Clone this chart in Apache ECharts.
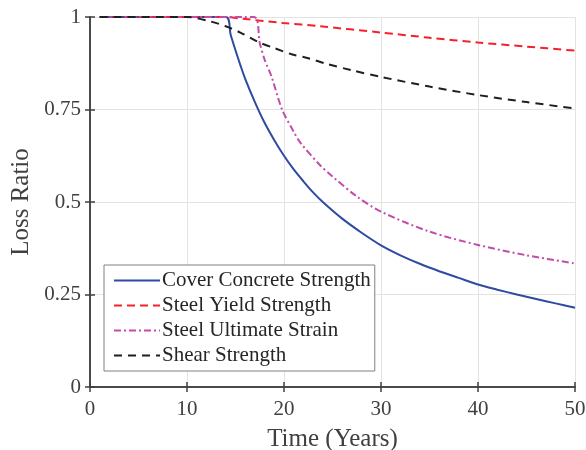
<!DOCTYPE html>
<html>
<head>
<meta charset="utf-8">
<script src="https://cdn.jsdelivr.net/npm/echarts@6/dist/echarts.min.js"></script>
<style>
  html, body { margin: 0; padding: 0; background: #fff; }
  #chart { width: 586px; height: 450px; }
</style>
</head>
<body>
<div id="chart"></div>
<script>
// values
var coverYears = [1, 14, 14.5, 15, 15.5, 16, 17, 18, 19, 20, 21, 22, 23, 24, 26, 28, 30, 32, 34, 36, 38, 40, 42, 44, 46, 48, 50];
var coverVals  = [1, 1, 0.952, 0.91, 0.87, 0.833, 0.77, 0.714, 0.667, 0.625, 0.588, 0.556, 0.526, 0.5, 0.455, 0.417, 0.383, 0.356, 0.333, 0.313, 0.295, 0.277, 0.263, 0.25, 0.238, 0.226, 0.214];

var yieldYears = [1, 14, 15.8, 19.9, 23.7, 30, 35, 40, 45, 50];
var yieldVals  = [1, 1, 0.995, 0.984, 0.975, 0.958, 0.944, 0.931, 0.92, 0.909];

var strainYears = [1, 16.9, 17.5, 18, 18.7, 19.8, 21, 21.7, 23.7, 25, 27.5, 30, 35, 40, 45, 50];
var strainVals  = [1, 1, 0.93, 0.885, 0.84, 0.75, 0.69, 0.66, 0.6, 0.569, 0.515, 0.474, 0.42, 0.384, 0.356, 0.334];

var shearYears = [1, 10, 12.4, 14, 15.5, 17.3, 19, 20.7, 22.6, 24.3, 27, 30, 35, 40, 45, 50];
var shearVals  = [1, 1, 0.988, 0.975, 0.958, 0.933, 0.916, 0.9, 0.888, 0.874, 0.856, 0.838, 0.812, 0.789, 0.77, 0.753];

var xTicks = [0, 10, 20, 30, 40, 50];
var yTicks = [0, 0.25, 0.5, 0.75, 1];

function pairs(xs, ys) {
  return xs.map(function (x, i) { return [x, ys[i]]; });
}

var chart = echarts.init(document.getElementById('chart'));
var font = '"Liberation Serif", "Times New Roman", serif';
var axisColor = '#404040';

var option = {
  animation: false,
  backgroundColor: '#fff',
  textStyle: { fontFamily: font },
  grid: { left: 90, right: 11, top: 17, bottom: 63, containLabel: false, outerBoundsMode: 'none' },
  legend: {
    orient: 'vertical',
    left: 104,
    top: 265,
    backgroundColor: '#fff',
    borderColor: '#808080',
    borderWidth: 1,
    padding: [5, 4, 5, 9],
    itemWidth: 46,
    itemHeight: 14,
    itemGap: 4,
    itemStyle: { color: 'transparent', borderWidth: 0, opacity: 0 },
    textStyle: { fontFamily: font, fontSize: 21, lineHeight: 21, color: '#262626', padding: [0, 0, 0, -3] },
    data: ['Cover Concrete Strength', 'Steel Yield Strength', 'Steel Ultimate Strain', 'Shear Strength']
  },
  xAxis: [{
    type: 'value',
    min: 0, max: 50, interval: 10,
    name: 'Time (Years)',
    nameLocation: 'middle',
    nameGap: 40,
    nameTextStyle: { fontFamily: font, fontSize: 25, color: '#404040' },
    axisLine: { show: true, lineStyle: { color: axisColor, width: 1.5 } },
    axisTick: { show: true, inside: true, length: 5, lineStyle: { color: axisColor, width: 1.5 } },
    axisLabel: { fontFamily: font, fontSize: 21, color: '#404040', margin: 12,
      formatter: function (v) { return xTicks.indexOf(v) >= 0 ? String(v) : ''; } },
    splitLine: { show: true, lineStyle: { color: '#e3e3e3', width: 1 } }
  }, {
    type: 'value',
    position: 'top',
    min: 0, max: 50, interval: 10,
    axisLine: { show: true, lineStyle: { color: axisColor, width: 1.5 } },
    axisTick: { show: true, inside: true, length: 5, lineStyle: { color: axisColor, width: 1.5 } },
    axisLabel: { show: false },
    splitLine: { show: false }
  }],
  yAxis: [{
    type: 'value',
    min: 0, max: 1, interval: 0.25,
    name: 'Loss Ratio',
    nameLocation: 'middle',
    nameGap: 56,
    nameMoveOverlap: false,
    nameTextStyle: { fontFamily: font, fontSize: 25, color: '#404040' },
    axisLine: { show: true, lineStyle: { color: axisColor, width: 1.5 } },
    axisTick: { show: true, inside: true, length: 5, lineStyle: { color: axisColor, width: 1.5 } },
    axisLabel: { fontFamily: font, fontSize: 21, color: '#404040', margin: 9,
      formatter: function (v) { return yTicks.indexOf(v) >= 0 ? String(v) : ''; } },
    splitLine: { show: true, lineStyle: { color: '#e3e3e3', width: 1 } }
  }, {
    type: 'value',
    position: 'right',
    min: 0, max: 1, interval: 0.25,
    axisLine: { show: true, lineStyle: { color: axisColor, width: 1.5 } },
    axisTick: { show: true, inside: true, length: 5, lineStyle: { color: axisColor, width: 1.5 } },
    axisLabel: { show: false },
    splitLine: { show: false }
  }],
  series: [{
    name: 'Cover Concrete Strength',
    type: 'line',
    smooth: 0.3,
    symbol: 'none',
    lineStyle: { color: '#2f4aa3', width: 2, type: 'solid' },
    itemStyle: { color: '#2f4aa3' },
    data: pairs(coverYears, coverVals)
  }, {
    name: 'Steel Yield Strength',
    type: 'line',
    smooth: 0.3,
    symbol: 'none',
    lineStyle: { color: '#f5202a', width: 2, type: [8, 5] },
    itemStyle: { color: '#f5202a' },
    data: pairs(yieldYears, yieldVals)
  }, {
    name: 'Steel Ultimate Strain',
    type: 'line',
    smooth: 0.3,
    symbol: 'none',
    lineStyle: { color: '#c04da9', width: 2, type: [7, 3, 2, 3] },
    itemStyle: { color: '#c04da9' },
    data: pairs(strainYears, strainVals)
  }, {
    name: 'Shear Strength',
    type: 'line',
    smooth: 0.3,
    symbol: 'none',
    lineStyle: { color: '#1f1f1f', width: 2, type: [8, 6] },
    itemStyle: { color: '#1f1f1f' },
    data: pairs(shearYears, shearVals)
  }]
};

chart.setOption(option);
</script>
</body>
</html>
